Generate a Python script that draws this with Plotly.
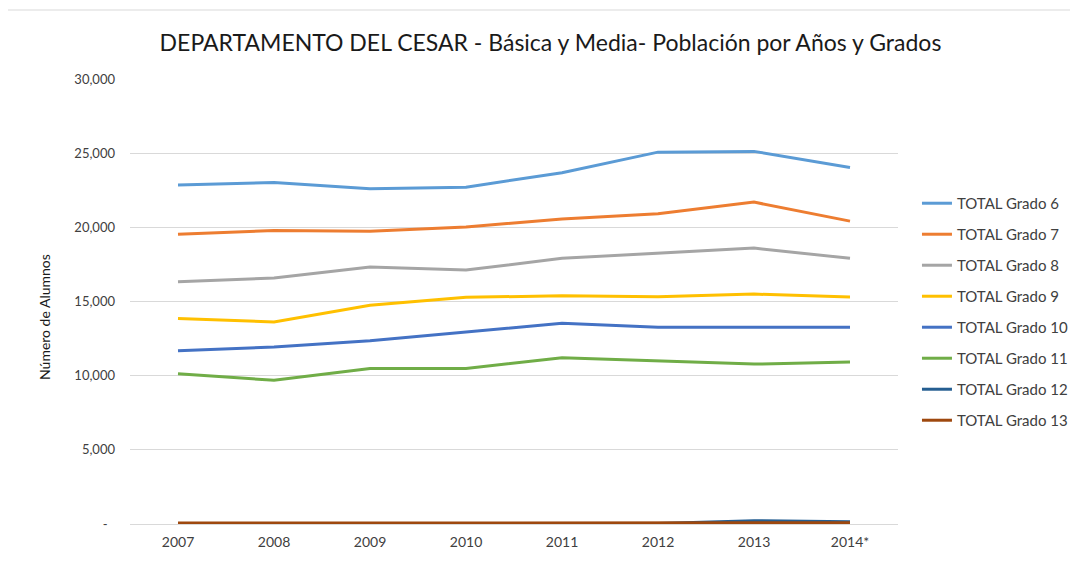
import plotly.graph_objects as go

# años y series
years = ['2007', '2008', '2009', '2010', '2011', '2012', '2013', '2014*']

grado_6 = [22850, 23030, 22600, 22710, 23680, 25070, 25120, 24040]
grado_7 = [19530, 19790, 19730, 20020, 20560, 20910, 21700, 20420]
grado_8 = [16330, 16580, 17320, 17120, 17910, 18250, 18600, 17910]
grado_9 = [13860, 13620, 14740, 15280, 15390, 15320, 15500, 15300]
grado_10 = [11680, 11930, 12350, 12940, 13530, 13260, 13260, 13260]
grado_11 = [10130, 9690, 10490, 10490, 11210, 10990, 10780, 10920]
grado_12 = [30, 20, 20, 20, 20, 40, 220, 150]
grado_13 = [60, 60, 60, 60, 60, 60, 60, 90]

names = ['TOTAL Grado 6', 'TOTAL Grado 7', 'TOTAL Grado 8', 'TOTAL Grado 9',
         'TOTAL Grado 10', 'TOTAL Grado 11', 'TOTAL Grado 12', 'TOTAL Grado 13']
series = [grado_6, grado_7, grado_8, grado_9, grado_10, grado_11, grado_12, grado_13]
colors = ['#5B9BD5', '#ED7D31', '#A5A5A5', '#FFC000',
          '#4472C4', '#70AD47', '#255E91', '#9E480E']

y_ticks = [0, 5000, 10000, 15000, 20000, 25000, 30000]
y_labels = ['-\u2007', '5,000', '10,000', '15,000', '20,000', '25,000', '30,000']

fig = go.Figure()
for i in range(len(series)):
    fig.add_trace(go.Scatter(
        x=years, y=series[i], name=names[i], mode='lines',
        line=dict(color=colors[i], width=3),
        legendgroup=str(i)))

# la página tiene 8px de margen en el body, por eso 1070x555
fig.update_layout(
    width=1070, height=555,
    paper_bgcolor='white', plot_bgcolor='white',
    margin=dict(l=122, r=180, t=71, b=39, autoexpand=False),
    font=dict(family='Lato', size=14, color='#262626'),
    title=dict(text='DEPARTAMENTO DEL CESAR - Básica y Media- Población por Años y Grados',
               x=0.507, xanchor='center', y=0.937, yanchor='middle',
               font=dict(size=23, color='#1a1a1a')),
    showlegend=True,
    legend=dict(xref='container', yref='container', x=0.8495, xanchor='left',
                y=0.4523, yanchor='middle',
                tracegroupgap=8.5, font=dict(size=15, color='#404040'),
                bgcolor='rgba(0,0,0,0)'),
)

fig.update_xaxes(
    type='category', range=[-0.5, 7.5], showgrid=False, showline=True,
    linecolor='#d9d9d9', linewidth=1, ticks='', ticklabelstandoff=5,
    automargin=False,
    tickfont=dict(size=14, color='#404040'), zeroline=False)

fig.update_yaxes(
    range=[0, 30000], tickvals=y_ticks, ticktext=y_labels,
    showgrid=True, gridcolor='#d9d9d9', gridwidth=1, zeroline=False,
    showline=False, tickfont=dict(size=13, color='#404040'), ticks='',
    ticklabelstandoff=14, automargin=False)

# título del eje y
fig.add_annotation(text='Número de Alumnos', xref='paper', yref='paper',
                   x=(37 - 122) / 768, y=0.4652, textangle=-90,
                   xanchor='center', yanchor='middle',
                   showarrow=False, font=dict(size=14, color='#1a1a1a'))

# borde del gráfico
fig.add_shape(type='rect', xref='paper', yref='paper',
              x0=(-4 - 122) / 768, x1=(1090 - 122) / 768,
              y0=(516 - 580) / 445, y1=(516 - 2) / 445,
              line=dict(color='#d9d9d9', width=1), fillcolor='rgba(0,0,0,0)',
              layer='below')

fig.write_html('out.html')
